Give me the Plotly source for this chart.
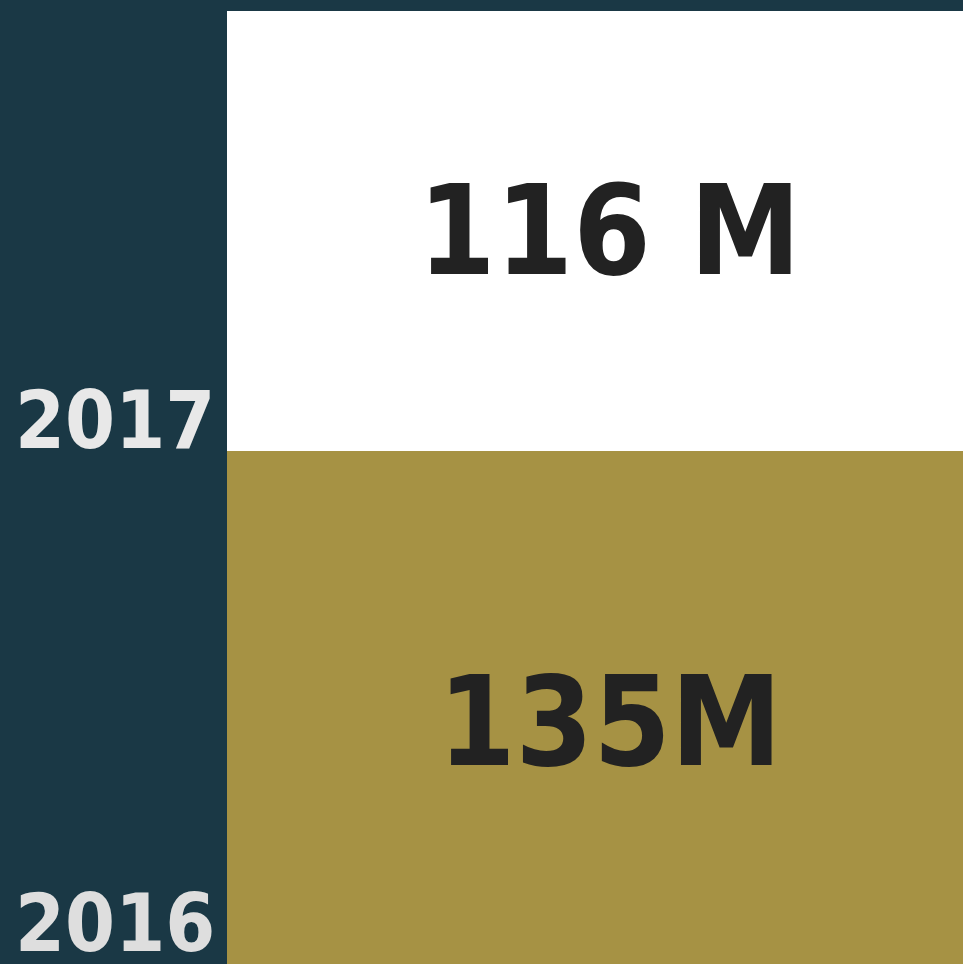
import plotly.graph_objects as go

years = ["2016", "2017"]
values = [135, 116]
value_labels = ["135M", "116 M"]
bar_colors = ["#a69244", "#ffffff"]
year_colors = ["#dedede", "#e8e8e8"]

BG = "#1a3845"
FONT = "DejaVu Sans Condensed"
value_shift = [-14, 0]
year_shift = [-8, -18]

fig = go.Figure()
bottoms = []
acc = 0
for yr, v, c in zip(years, values, bar_colors):
    bottoms.append(acc)
    fig.add_trace(go.Bar(x=[0], y=[v], name=yr, marker=dict(color=c, line=dict(width=0)),
                         width=1, hoverinfo="skip"))
    acc += v
total = acc

annotations = []
for i, (yr, v, b, lab, yc) in enumerate(zip(years, values, bottoms, value_labels, year_colors)):
    annotations.append(dict(x=0.02, xref="x", y=b + v / 2, yref="y", text=lab,
                            showarrow=False, xanchor="center", yanchor="middle",
                            yshift=value_shift[i],
                            font=dict(family=FONT, size=124, color="#222222", weight="bold")))
    annotations.append(dict(x=-0.152, xref="paper", y=b, yref="y", text=yr,
                            showarrow=False, xanchor="center", yanchor="bottom",
                            yshift=year_shift[i],
                            font=dict(family=FONT, size=80, color=yc, weight="bold")))

fig.update_layout(
    width=963, height=964,
    margin=dict(l=227, r=0, t=11, b=0),
    paper_bgcolor=BG, plot_bgcolor=BG,
    barmode="stack", bargap=0, showlegend=False,
    xaxis=dict(range=[-0.5, 0.5], visible=False, fixedrange=True),
    yaxis=dict(range=[0, total], visible=False, fixedrange=True),
    annotations=annotations,
)
fig.write_html("out.html", config={"displayModeBar": False},
               post_script="document.body.style.margin='0';document.body.style.overflow='hidden';")
